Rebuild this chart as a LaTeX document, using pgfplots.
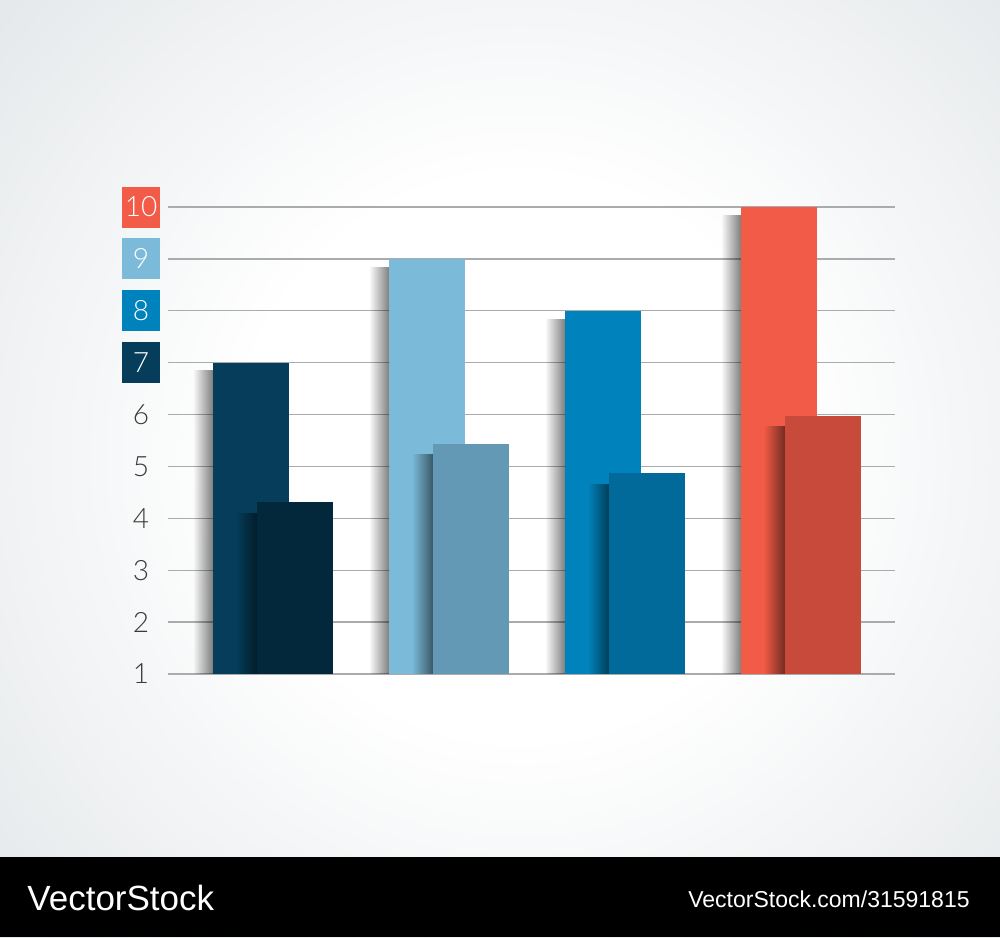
\documentclass[border=0pt]{standalone}
\usepackage{pgfplots}
\pgfplotsset{compat=1.18}
\usepackage{pgfplotstable}
\usepackage{fontspec}
\setmainfont{Lato}
\newfontfamily\thinfont{Lato}[UprightFont={* Light}]
\newfontfamily\wmfont{Liberation Sans}
\usetikzlibrary{fadings}

% colours
\definecolor{bgg}{HTML}{D9DEE1}
\definecolor{gridc}{HTML}{A9ABAD}
\definecolor{labc}{HTML}{3A3A3A}
\definecolor{navyA}{HTML}{053D5A}
\definecolor{navyB}{HTML}{03273B}
\definecolor{skyA}{HTML}{7BBAD9}
\definecolor{skyB}{HTML}{6399B4}
\definecolor{blueA}{HTML}{0083BC}
\definecolor{blueB}{HTML}{016A9A}
\definecolor{redA}{HTML}{F15B47}
\definecolor{redB}{HTML}{C74A3A}

\pgfdeclareradialshading{bgshade}{\pgfpoint{0bp}{0bp}}{%
  color(0bp)=(white); color(7bp)=(white); color(22bp)=(bgg); color(50bp)=(bgg)}
\tikzfading[name=shadowfade, left color=transparent!100, right color=transparent!0]

\setlength{\fboxsep}{0pt}
\newcommand{\tbox}[2]{\colorbox{#1}{\parbox[c][20.5pt][c]{19pt}{\centering\color{white}#2}}}

% group x, back bar, front bar
\pgfplotstableread{
x back front
0 7  4.31
1 9  5.43
2 8  4.87
3 10 5.98
}\bars

\pgfplotsset{
  backshadow/.style={draw=none, fill=black, fill opacity=0.5, path fading=shadowfade,
                     bar shift=-0.398, bar width=0.114},
  frontshadow/.style={draw=none, fill=black, fill opacity=0.55, path fading=shadowfade,
                      bar shift=-0.148, bar width=0.125},
}

\begin{document}
\begin{tikzpicture}
\begin{scope}[x=0.5pt,y=0.5pt]
  \fill[bgg] (0,0) rectangle (1000,937);
  \begin{scope}
    \clip (0,0) rectangle (1000,937);
    \shade[shading=bgshade] (520,480) circle (1000);
  \end{scope}
  \fill[black] (0,0) rectangle (1000,80);
  \node[anchor=base west, text=white, inner sep=0pt,
        font=\wmfont\fontsize{17.5}{20}\selectfont] at (27,27) {VectorStock};
  \node[anchor=base east, text=white, inner sep=0pt,
        font=\wmfont\fontsize{11.5}{14}\selectfont] at (970,30) {VectorStock.com/31591815};
\end{scope}

\begin{axis}[
    at={(84pt,131.5pt)}, anchor=south west,
    width=363.5pt, height=233.5pt, scale only axis,
    xmin=-0.597, xmax=3.534, ymin=1, ymax=10,
    ybar, bar width=0.432,
    axis line style={draw=none},
    major tick length=0pt,
    xtick=\empty,
    ytick={1,...,10},
    yticklabels={1,2,3,4,5,6,\tbox{navyA}{7},\tbox{blueA}{8},\tbox{skyA}{9},\tbox{redA}{10}},
    yticklabel style={anchor=center, xshift=-13.5pt, inner sep=0pt, text=labc,
                      font=\thinfont\fontsize{14}{16}\selectfont},
    /pgf/number format/assume math mode=true,
    ymajorgrids=true,
    grid style={draw=gridc, line width=0.7pt},
  ]
  % soft shadows left of the back bars, one path per group
  \pgfplotsinvokeforeach{-0.5:0.5, 0.5:1.5, 1.5:2.5, 2.5:3.5}{
    \addplot[backshadow, restrict x to domain=#1]
      table[x=x, y expr=\thisrow{back}-0.15] {\bars};
  }
  % back bars
  \addplot[draw=none, fill=navyA, bar shift=-0.125, restrict x to domain=-0.5:0.5] table[x=x, y=back] {\bars};
  \addplot[draw=none, fill=skyA,  bar shift=-0.125, restrict x to domain=0.5:1.5]  table[x=x, y=back] {\bars};
  \addplot[draw=none, fill=blueA, bar shift=-0.125, restrict x to domain=1.5:2.5]  table[x=x, y=back] {\bars};
  \addplot[draw=none, fill=redA,  bar shift=-0.125, restrict x to domain=2.5:3.5]  table[x=x, y=back] {\bars};
  % shadows of the front bars on the back bars
  \pgfplotsinvokeforeach{-0.5:0.5, 0.5:1.5, 1.5:2.5, 2.5:3.5}{
    \addplot[frontshadow, restrict x to domain=#1]
      table[x=x, y expr=\thisrow{front}-0.2] {\bars};
  }
  % front bars
  \addplot[draw=none, fill=navyB, bar shift=0.125, restrict x to domain=-0.5:0.5] table[x=x, y=front] {\bars};
  \addplot[draw=none, fill=skyB,  bar shift=0.125, restrict x to domain=0.5:1.5]  table[x=x, y=front] {\bars};
  \addplot[draw=none, fill=blueB, bar shift=0.125, restrict x to domain=1.5:2.5]  table[x=x, y=front] {\bars};
  \addplot[draw=none, fill=redB,  bar shift=0.125, restrict x to domain=2.5:3.5]  table[x=x, y=front] {\bars};
\end{axis}

\pgfresetboundingbox
\path (0,0) rectangle (500pt,468.5pt);
\end{tikzpicture}
\end{document}
